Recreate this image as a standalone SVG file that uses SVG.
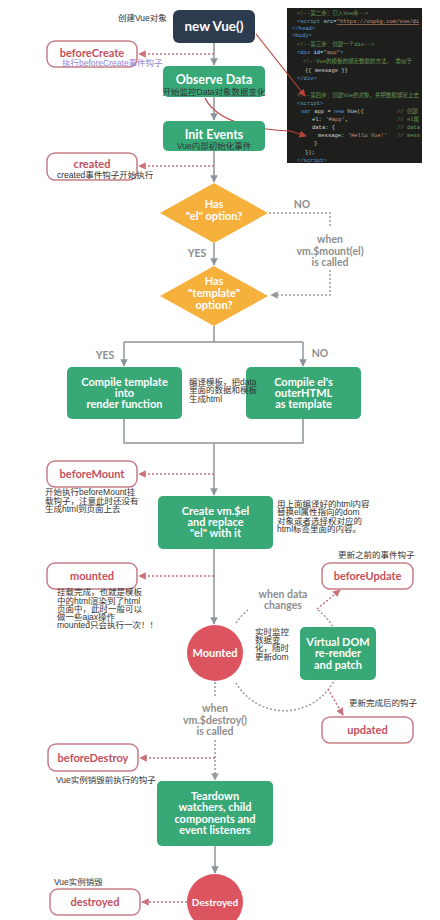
<svg xmlns="http://www.w3.org/2000/svg" width="440" height="920" viewBox="0 0 440 920">
<defs>
<style>
.t{font-family:Lato,"Liberation Sans",sans-serif;font-weight:bold;fill:#fff;text-anchor:middle}
.hk rect{fill:#fff;stroke:#c77d87;stroke-width:1.5}
.hk text{font-family:Lato,"Liberation Sans",sans-serif;font-weight:bold;font-size:11px;fill:#c4505e;text-anchor:middle}
.g rect{fill:#38a877}
.o polygon{fill:#f6b03c}
.r circle{fill:#dd5461}
.n{font-family:"Liberation Sans","Noto Sans CJK SC",sans-serif;font-size:8.5px;fill:#333}
.gl{font-family:Lato,"Liberation Sans",sans-serif;font-weight:bold;font-size:10.5px;fill:#8e8e8e;text-anchor:middle}
.ln{stroke:#8c949c;stroke-width:1.5;fill:none}
.dr{stroke:#c8717b;stroke-width:1.5;fill:none;stroke-dasharray:2 2}
.dg{stroke:#9a9a9a;stroke-width:1.5;fill:none;stroke-dasharray:2 2}
.ra{stroke:#b8433d;stroke-width:1.2;fill:none}
.c{font-family:"Liberation Mono","Noto Sans CJK SC",monospace;font-size:5.5px;fill:#d4d4d4}
.cm{fill:#6a9955}.tg{fill:#569cd6}.at{fill:#9cdcfe}.st{fill:#ce9178}.kw{fill:#569cd6}
</style>
<marker id="ag" viewBox="0 0 10 10" refX="9" refY="5" markerWidth="5" markerHeight="5" orient="auto"><path d="M0,0 L10,5 L0,10 z" fill="#8c949c"/></marker>
<marker id="ar" viewBox="0 0 10 10" refX="9" refY="5" markerWidth="5" markerHeight="5" orient="auto"><path d="M0,0 L10,5 L0,10 z" fill="#c8717b"/></marker>
<marker id="agr" viewBox="0 0 10 10" refX="9" refY="5" markerWidth="5" markerHeight="5" orient="auto"><path d="M0,0 L10,5 L0,10 z" fill="#9a9a9a"/></marker>
<marker id="ak" viewBox="0 0 10 10" refX="9" refY="5" markerWidth="6" markerHeight="6" orient="auto"><path d="M0,0 L10,5 L0,10 z" fill="#b8433d"/></marker>
<clipPath id="cp"><rect x="287" y="8" width="135" height="155"/></clipPath>
</defs>
<rect width="440" height="920" fill="#fff"/>

<g id="code-panel">
<rect x="287" y="8" width="135" height="155" fill="#1e1f1c"/>
<g clip-path="url(#cp)" class="c">
<text x="297" y="15" class="cm">&lt;!--第二步：引入Vue库--&gt;</text>
<text x="297" y="23"><tspan class="tg">&lt;script</tspan> <tspan class="at">src=</tspan><tspan class="st" text-decoration="underline">"https://unpkg.com/vue/di</tspan></text>
<text x="292" y="30" class="tg">&lt;/head&gt;</text>
<text x="292" y="37" class="tg">&lt;body&gt;</text>
<text x="297" y="46" class="cm">&lt;!--第三步：创建一个div--&gt;</text>
<text x="297" y="54"><tspan class="tg">&lt;div</tspan> <tspan class="at">id=</tspan><tspan class="st">"app"</tspan><tspan class="tg">&gt;</tspan></text>
<text x="303" y="63" class="cm">&lt;!--Vue的模板的绑定数据的方法，  类似于</text>
<text x="305" y="72">{{ message }}</text>
<text x="297" y="80" class="tg">&lt;/div&gt;</text>
<text x="297" y="97" class="cm">&lt;!--第四步：创建Vue的对象，并把数据绑定上去</text>
<text x="297" y="105" class="tg">&lt;script&gt;</text>
<text x="301" y="113"><tspan class="kw">var</tspan> app = <tspan class="kw">new</tspan> Vue({</text>
<text x="312" y="121">el: <tspan class="st">'#app'</tspan>,</text>
<text x="312" y="129">data: {</text>
<text x="318" y="137">message: <tspan class="st">'Hello Vue!'</tspan></text>
<text x="397" y="113" class="cm">// 创建</text>
<text x="397" y="121" class="cm">// el属</text>
<text x="397" y="129" class="cm">// data</text>
<text x="397" y="137" class="cm">// mess</text>
<text x="314" y="145">}</text>
<text x="305" y="154">});</text>
<text x="297" y="162" class="tg">&lt;/script&gt;</text>
</g>
</g>

<g id="connectors">
<path class="ln" d="M214,43 V65" marker-end="url(#ag)"/>
<path class="ln" d="M214,97 V120" marker-end="url(#ag)"/>
<path class="ln" d="M214,151 V182" marker-end="url(#ag)"/>
<path class="ln" d="M214,243 V265" marker-end="url(#ag)"/>
<path class="ln" d="M214,326 V342 M124,342 H303"/>
<path class="ln" d="M124,342 V366" marker-end="url(#ag)"/>
<path class="ln" d="M303,342 V366" marker-end="url(#ag)"/>
<path class="ln" d="M124,419 V443 H303 V419"/>
<path class="ln" d="M214,443 V495" marker-end="url(#ag)"/>
<path class="ln" d="M214,549 V624" marker-end="url(#ag)"/>
<path class="ln" d="M215,846 V873" marker-end="url(#ag)"/>
<path class="dg" d="M269,213 H330 V228"/>
<path class="dg" d="M330,270 V295 H271" marker-end="url(#agr)"/>
<path class="dg" d="M215,682 V698"/>
<path class="dg" d="M215,740 V780" marker-end="url(#agr)"/>
<path class="dg" d="M236,623 A56,56 0 0 1 248,610"/>
<path class="dg" d="M318,610 A56,56 0 1 1 236,683"/>
<path class="dr" d="M214,54 H139" marker-end="url(#ar)"/>
<path class="dr" d="M214,166 H139" marker-end="url(#ar)"/>
<path class="dr" d="M214,474 H139" marker-end="url(#ar)"/>
<path class="dr" d="M214,576 H139" marker-end="url(#ar)"/>
<path class="dr" d="M215,758 H140" marker-end="url(#ar)"/>
<path class="dr" d="M187,902 H142" marker-end="url(#ar)"/>
<path class="dr" d="M317,609 L340,590" marker-end="url(#ar)"/>
<path class="dr" d="M328,689 L343,715" marker-end="url(#ar)"/>
<path class="ra" d="M256,34 L305,96" marker-end="url(#ak)"/>
<path class="ra" d="M205,98 Q220,128 290,131 L306,136" marker-end="url(#ak)"/>
</g>

<g id="new-vue"><rect x="173" y="10" width="82" height="33" rx="6" fill="#2d3b4e"/><text class="t" x="214" y="31" font-size="13.5">new Vue()</text></g>
<text id="note-create" class="n" x="118" y="21">创建Vue对象</text>

<g id="observe-data" class="g"><rect x="163" y="66" width="102" height="31" rx="5"/><text class="t" x="214" y="84" font-size="12.5">Observe Data</text><text class="n" x="214" y="94.5" text-anchor="middle">开始监控Data对象数据变化</text></g>
<g id="init-events" class="g"><rect x="163" y="121" width="102" height="30" rx="5"/><text class="t" x="214" y="139" font-size="12.5">Init Events</text><text class="n" x="214" y="149" text-anchor="middle">Vue内部初始化事件</text></g>

<g id="beforeCreate" class="hk"><rect x="47" y="41" width="90" height="26" rx="8"/><text x="92" y="57">beforeCreate</text></g>
<text class="n" x="62" y="66" style="fill:#8f86d6">执行beforeCreate事件钩子</text>
<g id="created" class="hk"><rect x="47" y="153" width="90" height="27" rx="8"/><text x="92" y="168">created</text></g>
<text class="n" x="57" y="178">created事件钩子开始执行</text>

<g id="has-el" class="o"><polygon points="214,183 268,213 214,243 160,213"/><text class="t" x="214" y="208" font-size="11">Has</text><text class="t" x="214" y="220" font-size="11">"el" option?</text></g>
<text class="gl" x="302" y="208">NO</text>
<text class="gl" x="330" y="243">when</text>
<text class="gl" x="330" y="255">vm.$mount(el)</text>
<text class="gl" x="330" y="266">is called</text>
<text class="gl" x="197" y="257">YES</text>

<g id="has-template" class="o"><polygon points="214,266 268,296 214,326 160,296"/><text class="t" x="214" y="285" font-size="11">Has</text><text class="t" x="214" y="297" font-size="11">"template"</text><text class="t" x="214" y="309" font-size="11">option?</text></g>
<text class="gl" x="105" y="359">YES</text>
<text class="gl" x="320" y="357">NO</text>

<g id="compile-template" class="g"><rect x="67" y="367" width="115" height="52" rx="5"/><text class="t" x="124.5" y="386" font-size="11">Compile template</text><text class="t" x="124.5" y="397" font-size="11">into</text><text class="t" x="124.5" y="408" font-size="11">render function</text></g>
<g id="compile-el" class="g"><rect x="246" y="367" width="115" height="52" rx="5"/><text class="t" x="303.5" y="386" font-size="11">Compile el's</text><text class="t" x="303.5" y="397" font-size="11">outerHTML</text><text class="t" x="303.5" y="408" font-size="11">as template</text></g>
<text class="n" x="189" y="385">编译模板，把data</text>
<text class="n" x="189" y="393">里面的数据和模板</text>
<text class="n" x="189" y="402">生成html</text>

<g id="beforeMount" class="hk"><rect x="47" y="461" width="90" height="26" rx="8"/><text x="92" y="478">beforeMount</text></g>
<text class="n" x="45" y="495">开始执行beforeMount挂</text>
<text class="n" x="45" y="504">载钩子，注意此时还没有</text>
<text class="n" x="45" y="512">生成html到页面上去</text>

<g id="create-el" class="g"><rect x="158" y="496" width="115" height="53" rx="5"/><text class="t" x="215.5" y="515" font-size="11">Create vm.$el</text><text class="t" x="215.5" y="526" font-size="11">and replace</text><text class="t" x="215.5" y="537" font-size="11">"el" with it</text></g>
<text class="n" x="277" y="507">用上面编译好的html内容</text>
<text class="n" x="277" y="515">替换el属性指向的dom</text>
<text class="n" x="277" y="524">对象或者选择权对应的</text>
<text class="n" x="277" y="532">html标签里面的内容。</text>

<g id="mounted" class="hk"><rect x="47" y="563" width="90" height="26" rx="8"/><text x="92" y="580">mounted</text></g>
<text class="n" x="57" y="595">挂载完成，也就是模板</text>
<text class="n" x="57" y="604">中的html渲染到了html</text>
<text class="n" x="57" y="612">页面中，此时一般可以</text>
<text class="n" x="57" y="620">做一些ajax操作</text>
<text class="n" x="57" y="628">mounted只会执行一次！！</text>

<g id="Mounted" class="r"><circle cx="215" cy="653" r="28"/><text class="t" x="215" y="657" font-size="11">Mounted</text></g>

<text class="n" x="338" y="558">更新之前的事件钩子</text>
<g id="beforeUpdate" class="hk"><rect x="322" y="563" width="91" height="26" rx="8"/><text x="367.5" y="580">beforeUpdate</text></g>
<text class="gl" x="283" y="598">when data</text>
<text class="gl" x="283" y="609">changes</text>
<text class="n" x="255" y="635">实时监控</text>
<text class="n" x="255" y="643">数据变</text>
<text class="n" x="255" y="651">化，随时</text>
<text class="n" x="255" y="660">更新dom</text>
<g id="virtual-dom" class="g"><rect x="300" y="627" width="76" height="53" rx="5"/><text class="t" x="338" y="646" font-size="11">Virtual DOM</text><text class="t" x="338" y="657" font-size="11">re-render</text><text class="t" x="338" y="669" font-size="11">and patch</text></g>
<text class="n" x="349" y="706">更新完成后的钩子</text>
<g id="updated" class="hk"><rect x="322" y="717" width="91" height="26" rx="8"/><text x="367.5" y="734">updated</text></g>

<text class="gl" x="215" y="712">when</text>
<text class="gl" x="215" y="724">vm.$destroy()</text>
<text class="gl" x="215" y="735">is called</text>

<g id="beforeDestroy" class="hk"><rect x="48" y="744" width="90" height="27" rx="8"/><text x="93" y="762">beforeDestroy</text></g>
<text class="n" x="56" y="783">Vue实例销毁前执行的钩子</text>

<g id="teardown" class="g"><rect x="157" y="781" width="116" height="65" rx="5"/><text class="t" x="215" y="800" font-size="11">Teardown</text><text class="t" x="215" y="811" font-size="11">watchers, child</text><text class="t" x="215" y="823" font-size="11">components and</text><text class="t" x="215" y="834" font-size="11">event listeners</text></g>

<text class="n" x="54" y="885">Vue实例销毁</text>
<g id="destroyed" class="hk"><rect x="50" y="889" width="90" height="26" rx="8"/><text x="95" y="906">destroyed</text></g>
<g id="Destroyed" class="r"><circle cx="215" cy="902" r="28"/><text class="t" x="215" y="906" font-size="10">Destroyed</text></g>
</svg>
